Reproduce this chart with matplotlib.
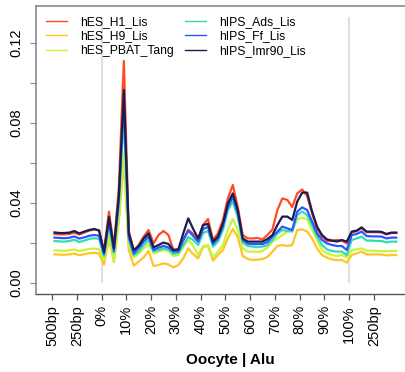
import numpy as np
import matplotlib
matplotlib.use("Agg")
import matplotlib.pyplot as plt
from matplotlib.lines import Line2D

plt.rcParams['font.family'] = ['Liberation Sans', 'DejaVu Sans']

# Bins: 10 upstream (50bp each), 50 body (2% each), 10 downstream (50bp each)
tick_labels = ['500bp', '250bp', '0%', '10%', '20%', '30%', '40%', '50%',
               '60%', '70%', '80%', '90%', '100%', '250bp']

series_names = ['hES_H1_Lis', 'hES_H9_Lis', 'hES_PBAT_Tang',
                'hIPS_Ads_Lis', 'hIPS_Ff_Lis', 'hIPS_Imr90_Lis']
series_colors = ['#FF4A22', '#FFC425', '#C6F53A', '#2EDDB4', '#2A55FF', '#1C1C4E']

hES_H1_Lis = [
    0.0245, 0.0243, 0.0243, 0.0245, 0.0252, 0.0242, 0.0252, 0.0262, 0.0268, 0.0263,
    0.0160, 0.0357, 0.0180, 0.0480, 0.1110, 0.0260, 0.0157, 0.0190, 0.0232, 0.0265,
    0.0198, 0.0240, 0.0260, 0.0240, 0.0165, 0.0168, 0.0215, 0.0266, 0.0245, 0.0215,
    0.0290, 0.0320, 0.0215, 0.0248, 0.0315, 0.0423, 0.0490, 0.0380, 0.0240, 0.0223,
    0.0223, 0.0225, 0.0218, 0.0240, 0.0268, 0.0365, 0.0423, 0.0415, 0.0380, 0.0448,
    0.0468, 0.0435, 0.0348, 0.0273, 0.0232, 0.0210, 0.0212, 0.0215, 0.0212, 0.0198,
    0.0253, 0.0259, 0.0275, 0.0254, 0.0254, 0.0254, 0.0253, 0.0243, 0.0250, 0.0250]

hES_H9_Lis = [
    0.0143, 0.0142, 0.0141, 0.0143, 0.0147, 0.0139, 0.0144, 0.0149, 0.0151, 0.0147,
    0.0092, 0.0220, 0.0105, 0.0310, 0.0610, 0.0165, 0.0087, 0.0107, 0.0128, 0.0160,
    0.0085, 0.0090, 0.0098, 0.0093, 0.0078, 0.0090, 0.0123, 0.0173, 0.0145, 0.0123,
    0.0180, 0.0185, 0.0112, 0.0140, 0.0165, 0.0223, 0.0270, 0.0230, 0.0135, 0.0120,
    0.0115, 0.0117, 0.0120, 0.0130, 0.0157, 0.0185, 0.0190, 0.0185, 0.0190, 0.0265,
    0.0268, 0.0257, 0.0223, 0.0173, 0.0140, 0.0127, 0.0118, 0.0115, 0.0115, 0.0102,
    0.0140, 0.0148, 0.0157, 0.0143, 0.0143, 0.0143, 0.0143, 0.0138, 0.0140, 0.0140]

hES_PBAT_Tang = [
    0.0163, 0.0162, 0.0161, 0.0163, 0.0168, 0.0160, 0.0165, 0.0170, 0.0172, 0.0168,
    0.0115, 0.0240, 0.0110, 0.0330, 0.0645, 0.0190, 0.0128, 0.0148, 0.0173, 0.0195,
    0.0148, 0.0157, 0.0165, 0.0160, 0.0135, 0.0140, 0.0182, 0.0216, 0.0185, 0.0140,
    0.0185, 0.0190, 0.0128, 0.0157, 0.0190, 0.0265, 0.0320, 0.0265, 0.0173, 0.0157,
    0.0157, 0.0155, 0.0160, 0.0178, 0.0207, 0.0223, 0.0240, 0.0257, 0.0268, 0.0318,
    0.0325, 0.0318, 0.0265, 0.0215, 0.0165, 0.0148, 0.0140, 0.0135, 0.0140, 0.0128,
    0.0165, 0.0168, 0.0173, 0.0162, 0.0162, 0.0160, 0.0160, 0.0158, 0.0160, 0.0160]

hIPS_Ads_Lis = [
    0.0210, 0.0208, 0.0207, 0.0210, 0.0216, 0.0205, 0.0212, 0.0220, 0.0224, 0.0220,
    0.0135, 0.0290, 0.0150, 0.0390, 0.0840, 0.0220, 0.0140, 0.0157, 0.0190, 0.0215,
    0.0157, 0.0165, 0.0173, 0.0168, 0.0145, 0.0150, 0.0190, 0.0230, 0.0215, 0.0190,
    0.0250, 0.0260, 0.0182, 0.0207, 0.0265, 0.0365, 0.0407, 0.0330, 0.0202, 0.0185,
    0.0182, 0.0180, 0.0182, 0.0190, 0.0215, 0.0248, 0.0265, 0.0260, 0.0257, 0.0340,
    0.0357, 0.0340, 0.0290, 0.0232, 0.0190, 0.0168, 0.0160, 0.0157, 0.0157, 0.0140,
    0.0215, 0.0223, 0.0232, 0.0212, 0.0212, 0.0210, 0.0210, 0.0203, 0.0207, 0.0207]

hIPS_Ff_Lis = [
    0.0227, 0.0225, 0.0224, 0.0226, 0.0233, 0.0222, 0.0228, 0.0236, 0.0240, 0.0236,
    0.0145, 0.0310, 0.0160, 0.0420, 0.0920, 0.0230, 0.0148, 0.0175, 0.0207, 0.0232,
    0.0165, 0.0177, 0.0185, 0.0178, 0.0157, 0.0158, 0.0215, 0.0262, 0.0235, 0.0207,
    0.0270, 0.0280, 0.0195, 0.0223, 0.0285, 0.0380, 0.0432, 0.0350, 0.0215, 0.0197,
    0.0195, 0.0195, 0.0195, 0.0205, 0.0232, 0.0257, 0.0282, 0.0273, 0.0265, 0.0357,
    0.0378, 0.0365, 0.0307, 0.0248, 0.0215, 0.0198, 0.0190, 0.0185, 0.0185, 0.0165,
    0.0240, 0.0245, 0.0257, 0.0235, 0.0233, 0.0233, 0.0232, 0.0223, 0.0227, 0.0227]

hIPS_Imr90_Lis = [
    0.0253, 0.0250, 0.0250, 0.0252, 0.0260, 0.0248, 0.0257, 0.0265, 0.0270, 0.0262,
    0.0155, 0.0330, 0.0175, 0.0440, 0.0965, 0.0250, 0.0165, 0.0185, 0.0223, 0.0248,
    0.0178, 0.0190, 0.0202, 0.0195, 0.0165, 0.0168, 0.0248, 0.0323, 0.0270, 0.0223,
    0.0290, 0.0295, 0.0207, 0.0232, 0.0298, 0.0398, 0.0448, 0.0365, 0.0223, 0.0207,
    0.0207, 0.0207, 0.0207, 0.0220, 0.0240, 0.0290, 0.0332, 0.0332, 0.0315, 0.0407,
    0.0452, 0.0452, 0.0357, 0.0282, 0.0240, 0.0218, 0.0212, 0.0207, 0.0215, 0.0207,
    0.0257, 0.0262, 0.0278, 0.0257, 0.0257, 0.0257, 0.0256, 0.0245, 0.0252, 0.0252]

series_values = [hES_H1_Lis, hES_H9_Lis, hES_PBAT_Tang,
                 hIPS_Ads_Lis, hIPS_Ff_Lis, hIPS_Imr90_Lis]

n_bins = len(hES_H1_Lis)
x = (np.arange(n_bins) + 0.5) * 0.2   # one tick step = 250bp or 10%

W, H = 406, 372
fig = plt.figure(figsize=(W / 100, H / 100), dpi=100)
left_px, right_px, top_px, bot_px = 36, 415, 5.5, 294
ax = fig.add_axes([left_px / W, 1 - bot_px / H,
                   (right_px - left_px) / W, (bot_px - top_px) / H])

# region boundaries (TSS / TES)
ax.vlines([2, 12], 0, 0.133, colors='#dcdcdc', lw=1.3, zorder=1)

for vals, col in zip(series_values, series_colors):
    ax.plot(x, vals, color=col, lw=1.6, zorder=2, solid_joinstyle='round')

# pixel-based axis limits: 500bp tick at 52px, 24.77px per tick step
px_per_unit = 24.77
ax.set_xlim((left_px - 52) / px_per_unit, (right_px - 52) / px_per_unit)
ax.set_ylim(-(bot_px - 283) / 2000, (283 - top_px) / 2000)

ax.set_xticks(np.arange(len(tick_labels)))
ax.set_xticklabels(tick_labels, rotation=90, fontsize=10.5)
ax.set_yticks(np.arange(0, 0.13, 0.02))
ax.set_yticklabels(['0.00', '', '0.04', '', '0.08', '', '0.12'],
                   rotation=90, va='center', fontsize=10.5)

ax.spines['right'].set_visible(False)
for s in ['left', 'top']:
    ax.spines[s].set_color('#8a8a8a')
    ax.spines[s].set_linewidth(1.2)
ax.spines['bottom'].set_color('#555555')
ax.spines['bottom'].set_linewidth(1.0)
ax.tick_params(axis='x', length=4, width=0.9, color='#555555', pad=4)
ax.tick_params(axis='y', length=4, width=0.9, color='#8a8a8a', pad=5)

fig.text(230 / W, 1 - 360 / H, 'Oocyte | Alu', ha='center', va='center',
         fontsize=11, fontweight='bold')

handles = [Line2D([], [], color=c, lw=1.0) for c in series_colors]
fig.legend(handles, series_names, loc='upper left',
           bbox_to_anchor=(46 / W, 1 - 16 / H), ncol=2, frameon=False,
           fontsize=8.7, handlelength=1.75, handletextpad=1.05,
           columnspacing=0.95, labelspacing=0.2, borderpad=0,
           borderaxespad=0)

fig.savefig('out.png', dpi=100)
